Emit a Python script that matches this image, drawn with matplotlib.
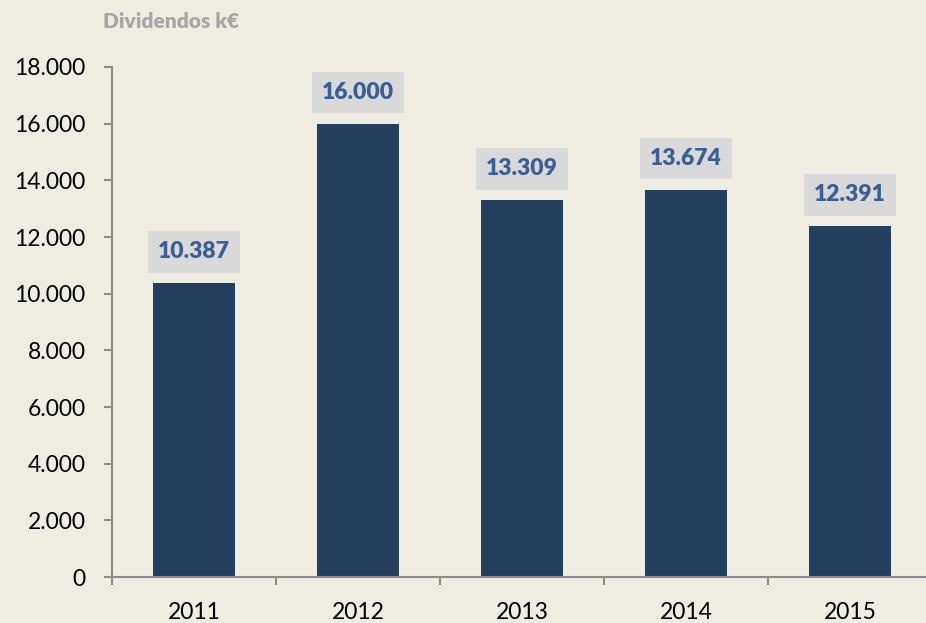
import matplotlib
matplotlib.use("Agg")

import matplotlib.pyplot as plt
from matplotlib.ticker import FuncFormatter

years = ["2011", "2012", "2013", "2014", "2015"]
dividendos = [10387, 16000, 13309, 13674, 12391]
value_labels = ["10.387", "16.000", "13.309", "13.674", "12.391"]
y_ticks = [0, 2000, 4000, 6000, 8000, 10000, 12000, 14000, 16000, 18000]

BG = "#efede1"
BAR = "#253f5f"
AXIS = "#8c8c8c"

plt.rcParams["font.family"] = ["Lato", "DejaVu Sans"]

W, H = 926, 623
fig = plt.figure(figsize=(W / 100, H / 100), dpi=100, facecolor=BG)
# axes: left spine at x=112, zero at y=577, 18000 at y=67, 5 slots of 164 px
ax = fig.add_axes([112 / W, (H - 577) / H, 820 / W, 510 / H])
ax.set_facecolor(BG)

x = list(range(len(years)))
ax.bar(x, dividendos, width=0.5, color=BAR, zorder=2)

ax.set_xlim(-0.5, len(years) - 0.5)
ax.set_ylim(0, 18000)
ax.set_yticks(y_ticks)
ax.yaxis.set_major_formatter(FuncFormatter(lambda v, p: f"{int(v):,}".replace(",", ".")))
ax.set_xticks(x)
ax.set_xticklabels(years)
ax.set_xticks([i + 0.5 for i in range(-1, len(years))], minor=True)

for s in ["top", "right"]:
    ax.spines[s].set_visible(False)
for s in ["left", "bottom"]:
    ax.spines[s].set_color(AXIS)
    ax.spines[s].set_linewidth(1.5)

ax.tick_params(axis="y", length=6, width=1.5, color=AXIS, labelsize=16.5, pad=13)
ax.tick_params(axis="x", which="major", length=0, labelsize=16.5, pad=18)
ax.tick_params(axis="x", which="minor", length=6, width=1.5, color=AXIS)

for xi, v, lab in zip(x, dividendos, value_labels):
    ax.annotate(lab, (xi, v), xytext=(0, 31), textcoords="offset pixels",
                ha="center", va="center", fontsize=16.5, fontweight="heavy",
                color="#3a5f94",
                bbox=dict(boxstyle="square,pad=0.45", fc="#d9d9d9", ec="none"))

fig.text(103 / W, 1 - 21 / H, "Dividendos k€", ha="left", va="center",
         fontsize=15, fontweight="heavy", color="#a6a6a6")

fig.savefig("out.png", dpi=100, facecolor=BG)
